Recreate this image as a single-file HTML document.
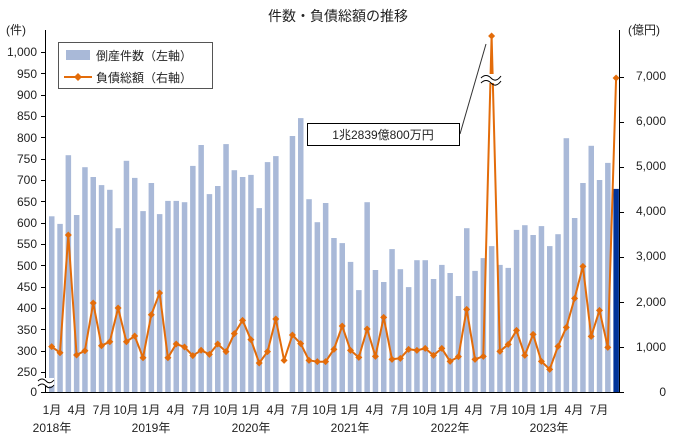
<!DOCTYPE html>
<html><head><meta charset="utf-8"><style>
body{margin:0;background:#fff}
svg text{font-family:"Liberation Sans","Noto Sans CJK JP",sans-serif;font-size:12px;fill:#222}
</style></head><body>
<svg id="c" width="676" height="441" xmlns="http://www.w3.org/2000/svg">
<rect width="676" height="441" fill="#fff"/>
<text x="338" y="21" text-anchor="middle" font-size="14" style="font-size:14px">件数・負債総額の推移</text>
<text x="6" y="34">(件)</text>
<text x="628" y="34">(億円)</text>
<g id="bars"></g>
<g text-anchor="end">
<text x="37" y="56">1,000</text><text x="37" y="78">950</text><text x="37" y="99">900</text><text x="37" y="120">850</text><text x="37" y="142">800</text><text x="37" y="163">750</text><text x="37" y="184">700</text><text x="37" y="206">650</text><text x="37" y="227">600</text><text x="37" y="248">550</text><text x="37" y="270">500</text><text x="37" y="291">450</text><text x="37" y="312">400</text><text x="37" y="334">350</text><text x="37" y="355">300</text><text x="37" y="376">250</text><text x="37" y="396">0</text>
</g>
<g text-anchor="end">
<text x="666" y="396">0</text><text x="666" y="351">1,000</text><text x="666" y="306">2,000</text><text x="666" y="260">3,000</text><text x="666" y="215">4,000</text><text x="666" y="170">5,000</text><text x="666" y="125">6,000</text><text x="666" y="80">7,000</text>
</g>
<g text-anchor="middle">
<text x="52" y="414">1月</text><text x="77" y="414">4月</text><text x="102" y="414">7月</text><text x="126" y="414">10月</text>
<text x="151" y="414">1月</text><text x="176" y="414">4月</text><text x="201" y="414">7月</text><text x="226" y="414">10月</text>
<text x="251" y="414">1月</text><text x="276" y="414">4月</text><text x="300" y="414">7月</text><text x="325" y="414">10月</text>
<text x="350" y="414">1月</text><text x="375" y="414">4月</text><text x="400" y="414">7月</text><text x="425" y="414">10月</text>
<text x="450" y="414">1月</text><text x="474" y="414">4月</text><text x="499" y="414">7月</text><text x="524" y="414">10月</text>
<text x="549" y="414">1月</text><text x="574" y="414">4月</text><text x="599" y="414">7月</text>
<text x="52" y="432">2018年</text><text x="151" y="432">2019年</text><text x="251" y="432">2020年</text><text x="350" y="432">2021年</text><text x="450" y="432">2022年</text><text x="549" y="432">2023年</text>
</g>
<g id="axes" stroke="#000" stroke-width="1"></g>
<g id="line"></g>
<line x1="460" y1="134" x2="486" y2="44" stroke="#333" stroke-width="1"/>
<rect x="307.5" y="123.5" width="152" height="22" fill="#fff" stroke="#000"/>
<text x="383" y="139" text-anchor="middle">1兆2839億800万円</text>
<rect x="58.5" y="42.5" width="154" height="46" fill="#fff" stroke="#555"/>
<rect x="66" y="50" width="24" height="10" fill="#A9B9D8"/>
<text x="96" y="60">倒産件数（左軸）</text>
<line x1="64" y1="77" x2="92" y2="77" stroke="#E36C0A" stroke-width="2"/>
<path d="M78 73 L82 77 L78 81 L74 77Z" fill="#E36C0A"/>
<text x="96" y="82">負債総額（右軸）</text>
</svg>
<script>
var B=[615,597,758,618,730,707,688,677,587,745,705,627,693,620,651,651,648,733,782,667,686,784,723,707,712,634,742,756,null,803,845,655,601,646,564,552,508,442,648,489,461,538,491,449,512,512,468,501,482,428,587,487,517,545,501,494,583,594,571,592,545,573,798,611,693,780,700,740,679];
var L=[1007,873,3489,822,918,1978,1029,1118,1867,1118,1244,762,1718,2200,762,1067,1000,807,927,837,1067,896,1296,1593,1163,644,896,1622,704,1267,1074,704,674,674,948,1467,926,770,1400,793,1659,726,748,948,926,970,815,970,681,785,1837,726,793,null,904,1059,1370,815,1281,681,504,1015,1437,2081,2793,1237,1815,993,null];
var ns="http://www.w3.org/2000/svg";
function el(p,t,a){var e=document.createElementNS(ns,t);for(var k in a)e.setAttribute(k,a[k]);p.appendChild(e);return e;}
var g=document.getElementById('bars');
B.forEach(function(v,i){if(v==null)return;var y=372-(v-250)*0.4267;el(g,'rect',{x:(49+8.3*i).toFixed(1),y:y.toFixed(1),width:5.5,height:(392-y).toFixed(1),fill:i==68?'#003399':'#A9B9D8'});});
var ax=document.getElementById('axes');
el(ax,'line',{x1:45.5,y1:30,x2:45.5,y2:392});
el(ax,'line',{x1:619.5,y1:30,x2:619.5,y2:392});
el(ax,'line',{x1:45,y1:392.5,x2:620,y2:392.5});
for(var v=250;v<=1000;v+=50){var y=Math.round(372-(v-250)*0.4267)+.5;el(ax,'line',{x1:41,y1:y,x2:45,y2:y});}
el(ax,'line',{x1:41,y1:392.5,x2:45,y2:392.5});
for(var v=0;v<=7000;v+=1000){var y=Math.round(392-v*0.045)+.5;el(ax,'line',{x1:619,y1:y,x2:624,y2:y});}
el(ax,'rect',{x:38,y:378,width:16,height:8,fill:'#fff',stroke:'none'});
el(ax,'path',{d:'M38 381 Q42 377 46 381 T54 380',fill:'none'});
el(ax,'path',{d:'M38 386 Q42 382 46 386 T54 385',fill:'none'});
var lg=document.getElementById('line');var pts=[];
L.forEach(function(v,i){var x=51.7+8.3*i,y;if(i==53)y=36;else if(i==68)y=78;else y=392-v*0.045;pts.push([x,y]);});
el(lg,'polyline',{points:pts.map(function(p){return p[0].toFixed(1)+','+p[1].toFixed(1)}).join(' '),fill:'none',stroke:'#E36C0A','stroke-width':2,'stroke-linejoin':'round'});
pts.forEach(function(p){el(lg,'path',{d:'M'+p[0]+' '+(p[1]-3.5)+'l3.5 3.5l-3.5 3.5l-3.5 -3.5z',fill:'#E36C0A'});});
el(lg,'rect',{x:481,y:74,width:20,height:9,fill:'#fff'});
el(lg,'path',{d:'M481 78 Q486 73 491 78 T501 76',fill:'none',stroke:'#000'});
el(lg,'path',{d:'M481 83 Q486 78 491 83 T501 81',fill:'none',stroke:'#000'});
</script>
</body></html>
